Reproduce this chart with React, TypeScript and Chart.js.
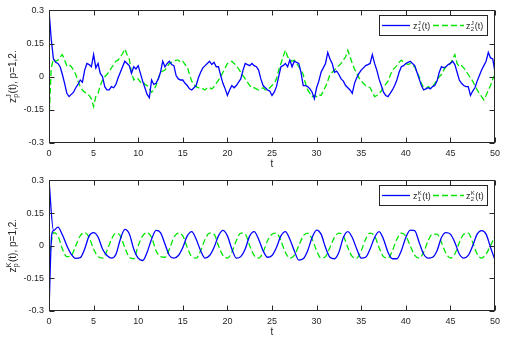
import React, { useEffect, useRef } from 'react';
import { Chart, registerables } from 'chart.js';

Chart.register(...registerables);

// ---------- data ----------
const xTicks = [0, 5, 10, 15, 20, 25, 30, 35, 40, 45, 50];
const yTicks = [-0.3, -0.15, 0, 0.15, 0.3];
const yTickLabels = ['-0.3', '-0.15', '0', '0.15', '0.3'];

// top panel (J), sampled every 0.25 time units
const STEP_J = 0.25;
const zJ1 = [
  0.30, 0.17, 0.08, 0.065, 0.06, 0.045, 0.01, -0.03, -0.075, -0.09, -0.08, -0.07, -0.05, -0.035, -0.015, -0.025, 0.03, 0.06, 0.055, 0.045,
  0.1, 0.04, 0.06, 0.015, 0.0, -0.045, -0.06, -0.06, -0.045, -0.05, -0.035, -0.005, 0.02, 0.045, 0.07, 0.06, 0.05, 0.015, 0.045, 0.035,
  0.05, 0.015, -0.02, -0.05, -0.08, -0.095, -0.015, -0.035, -0.03, -0.01, 0.02, 0.07, 0.045, 0.06, 0.07, 0.055, 0.05, 0.005, -0.01, -0.015,
  -0.015, -0.03, -0.04, -0.055, -0.06, -0.05, -0.04, -0.005, 0.02, 0.04, 0.05, 0.06, 0.07, 0.055, 0.065, 0.045, 0.045, 0.005, -0.03, -0.055,
  -0.085, -0.06, -0.04, -0.05, -0.04, -0.025, -0.01, 0.03, 0.06, 0.055, 0.05, 0.06, 0.05, 0.045, 0.03, -0.01, -0.04, -0.05, -0.06, -0.065,
  -0.085, -0.07, -0.045, 0.0, 0.045, 0.05, 0.06, 0.045, 0.075, 0.045, 0.07, 0.065, 0.06, 0.02, -0.04, -0.04, -0.045, -0.055, -0.07, -0.1,
  -0.05, -0.02, 0.02, 0.04, 0.06, 0.11, 0.08, 0.06, 0.02, 0.025, 0.01, -0.01, -0.02, -0.04, -0.05, -0.06, -0.075, -0.03, -0.005, 0.015,
  0.03, 0.04, 0.05, 0.055, 0.06, 0.1, 0.06, 0.03, -0.01, -0.04, -0.07, -0.085, -0.09, -0.075, -0.06, -0.04, -0.015, 0.02, 0.045, 0.05,
  0.06, 0.065, 0.07, 0.06, 0.05, 0.02, -0.01, -0.04, -0.06, -0.055, -0.05, -0.055, -0.045, -0.04, -0.02, 0.02, 0.045, 0.04, 0.045, 0.055,
  0.06, 0.07, 0.055, 0.02, -0.015, -0.03, -0.04, -0.045, -0.045, -0.085, -0.065, -0.05, -0.02, 0.005, 0.03, 0.05, 0.07, 0.11, 0.085, 0.08,
  0.02,
];
const zJ2 = [
  -0.2, 0.04, 0.08, 0.07, 0.075, 0.09, 0.1, 0.075, 0.05, 0.055, 0.045, 0.03, 0.01, -0.02, -0.045, -0.06, -0.07, -0.075, -0.085, -0.1,
  -0.135, -0.09, -0.075, -0.04, -0.015, 0.0, 0.01, 0.025, 0.04, 0.055, 0.07, 0.075, 0.09, 0.105, 0.125, 0.1, 0.08, 0.02, -0.015, -0.005,
  -0.01, -0.025, -0.02, -0.035, -0.04, -0.055, -0.07, -0.06, -0.04, -0.01, 0.02, 0.025, 0.03, 0.045, 0.06, 0.065, 0.07, 0.075, 0.075, 0.065,
  0.07, 0.055, 0.045, 0.01, -0.02, -0.035, -0.045, -0.05, -0.05, -0.055, -0.06, -0.05, -0.05, -0.055, -0.045, -0.03, -0.015, 0.0, 0.02, 0.04,
  0.06, 0.065, 0.07, 0.06, 0.05, 0.035, 0.02, 0.005, -0.01, -0.025, -0.04, -0.05, -0.05, -0.055, -0.06, -0.055, -0.05, -0.06, -0.06, -0.05,
  -0.04, -0.03, -0.01, 0.03, 0.06, 0.09, 0.12, 0.09, 0.08, 0.07, 0.075, 0.06, 0.045, 0.03, 0.01, -0.03, -0.06, -0.075, -0.09, -0.085,
  -0.09, -0.08, -0.085, -0.065, -0.045, -0.02, 0.01, 0.02, 0.03, 0.04, 0.05, 0.06, 0.075, 0.09, 0.12, 0.09, 0.06, 0.035, 0.015, -0.005,
  -0.02, -0.03, -0.04, -0.045, -0.05, -0.07, -0.09, -0.085, -0.075, -0.065, -0.045, -0.035, -0.02, 0.005, 0.03, 0.04, 0.05, 0.065, 0.075, 0.065,
  0.06, 0.055, 0.06, 0.05, 0.045, 0.02, 0.0, -0.03, -0.05, -0.055, -0.045, -0.05, -0.045, -0.03, -0.015, 0.0, 0.01, 0.03, 0.045, 0.05,
  0.06, 0.08, 0.1, 0.06, 0.045, 0.05, 0.04, 0.025, 0.01, -0.005, -0.02, -0.04, -0.06, -0.075, -0.09, -0.105, -0.085, -0.06, -0.04, -0.01,
  0.01,
];

// bottom panel (K), sampled every 0.5 time units
const STEP_K = 0.5;
const zK1 = [
  0.3, 0.07, 0.085, 0.05, 0.0, -0.04, -0.058, -0.055, -0.015, 0.045,
  0.06, 0.04, -0.015, -0.045, -0.057, -0.04, 0.03, 0.075, 0.055, -0.015,
  -0.057, -0.068, -0.03, 0.03, 0.07, 0.06, 0.008, -0.045, -0.057, -0.045,
  -0.008, 0.045, 0.065, 0.03, -0.023, -0.057, -0.045, -0.008, 0.045, 0.07,
  0.045, -0.015, -0.057, -0.05, -0.015, 0.045, 0.065, 0.03, -0.023, -0.053,
  -0.045, -0.008, 0.045, 0.065, 0.03, -0.023, -0.066, -0.06, -0.023, 0.038,
  0.072, 0.053, -0.008, -0.053, -0.06, -0.03, 0.038, 0.065, 0.038, -0.015,
  -0.057, -0.053, -0.015, 0.038, 0.065, 0.03, -0.03, -0.06, -0.06, -0.023,
  0.038, 0.072, 0.069, 0.015, -0.038, -0.057, -0.053, -0.023, 0.038, 0.06,
  0.053, 0.015, -0.038, -0.057, -0.045, 0.0, 0.053, 0.069, 0.053, -0.008,
  -0.066,
];
const zK2 = [
  -0.07, 0.06, 0.045, -0.015, -0.05, -0.045, 0.0, 0.045, 0.06, 0.038,
  -0.015, -0.05, -0.057, -0.023, 0.03, 0.058, 0.045, -0.008, -0.053, -0.06,
  0.0, 0.045, 0.06, 0.038, -0.023, -0.05, -0.053, -0.015, 0.038, 0.058,
  0.045, -0.008, -0.05, -0.057, -0.023, 0.03, 0.058, 0.053, 0.0, -0.045,
  -0.057, -0.03, 0.023, 0.058, 0.053, 0.0, -0.045, -0.057, -0.03, 0.023,
  0.053, 0.058, 0.023, -0.03, -0.057, -0.045, 0.0, 0.045, 0.058, 0.03,
  -0.023, -0.057, -0.05, -0.008, 0.038, 0.058, 0.045, -0.008, -0.05, -0.057,
  -0.023, 0.03, 0.058, 0.045, -0.008, -0.05, -0.057, -0.023, 0.03, 0.058,
  0.045, 0.0, -0.045, -0.057, -0.03, 0.023, 0.053, 0.053, 0.015, -0.035,
  -0.057, -0.038, 0.015, 0.053, 0.058, 0.015, -0.038, -0.057, -0.038, 0.0,
  0.045,
];
// short blue transient rising from the lower edge at t = 0 (bottom panel)
const tKStart = [0, 0.3, 0.5];
const zKStart = [-0.3, 0.05, 0.07];

// ---------- styling ----------
const FONT = "'Liberation Sans', Arial, sans-serif";
const AXIS_COLOR = '#262626';
const BLUE = '#0000ff';
const GREEN = '#00e600';
const W = 511;

const stepPoints = (step: number, ys: number[]) => ys.map((y, i) => ({ x: i * step, y }));
const pairPoints = (xs: number[], ys: number[]) => xs.map((x, i) => ({ x, y: ys[i] }));

function drawZ(ctx: CanvasRenderingContext2D, x: number, y: number, sub: string, sup: string, rest: string, size: number) {
  ctx.font = `${size}px ${FONT}`;
  ctx.fillText('z', x, y);
  const w = ctx.measureText('z').width;
  const small = Math.round(size * 0.72);
  ctx.font = `${small}px ${FONT}`;
  ctx.fillText(sub, x + w + 0.3, y + size * 0.28);
  ctx.fillText(sup, x + w + 0.3, y - size * 0.42);
  const sw = Math.max(ctx.measureText(sub).width, ctx.measureText(sup).width);
  ctx.font = `${size}px ${FONT}`;
  ctx.fillText(rest, x + w + sw + 0.8, y);
}

function widthZ(ctx: CanvasRenderingContext2D, sub: string, sup: string, rest: string, size: number) {
  ctx.font = `${size}px ${FONT}`;
  const w = ctx.measureText('z').width + ctx.measureText(rest).width;
  ctx.font = `${Math.round(size * 0.72)}px ${FONT}`;
  const sw = Math.max(ctx.measureText(sub).width, ctx.measureText(sup).width);
  return w + sw + 0.8;
}

const decoPlugin = {
  id: 'deco',
  afterDraw(chart: any, _args: any, opts: any) {
    const ctx: CanvasRenderingContext2D = chart.ctx;
    const { left, right, top, bottom } = chart.chartArea;
    const xs = chart.scales.x;
    const ys = chart.scales.y;
    const sup: string = opts.sup;
    ctx.save();
    // box and inward ticks
    ctx.strokeStyle = AXIS_COLOR;
    ctx.lineWidth = 1;
    ctx.setLineDash([]);
    const L = Math.round(left) + 0.5;
    const R = Math.round(right) - 0.5;
    const T = Math.round(top) + 0.5;
    const B = Math.round(bottom) - 0.5;
    ctx.strokeRect(L, T, R - L, B - T);
    ctx.beginPath();
    for (const v of xTicks) {
      const px = Math.round(xs.getPixelForValue(v)) + 0.5;
      ctx.moveTo(px, B); ctx.lineTo(px, B - 5);
      ctx.moveTo(px, T); ctx.lineTo(px, T + 5);
    }
    for (const v of yTicks) {
      const py = Math.round(ys.getPixelForValue(v)) + 0.5;
      ctx.moveTo(L, py); ctx.lineTo(L + 5, py);
      ctx.moveTo(R, py); ctx.lineTo(R - 5, py);
    }
    ctx.stroke();

    // x title
    ctx.fillStyle = AXIS_COLOR;
    ctx.font = `10px ${FONT}`;
    ctx.textAlign = 'center';
    ctx.textBaseline = 'middle';
    ctx.fillText('t', (left + right) / 2, bottom + 21);

    // y title (rotated)
    ctx.textAlign = 'left';
    ctx.textBaseline = 'alphabetic';
    ctx.save();
    ctx.translate(12, (top + bottom) / 2);
    ctx.rotate(-Math.PI / 2);
    const tw = widthZ(ctx, 'p', sup, '(t), p=1,2.', 10);
    drawZ(ctx, -tw / 2, 3.5, 'p', sup, '(t), p=1,2.', 10);
    ctx.restore();

    // legend
    const bw = 108;
    const bh = 20;
    const bx = Math.round(right) - 8 - bw;
    const by = Math.round(top) + 5;
    ctx.fillStyle = '#ffffff';
    ctx.fillRect(bx, by, bw, bh);
    ctx.strokeStyle = AXIS_COLOR;
    ctx.lineWidth = 1;
    ctx.strokeRect(bx + 0.5, by + 0.5, bw, bh);
    const my = by + bh / 2 + 0.5;
    ctx.lineWidth = 1.3;
    ctx.strokeStyle = BLUE;
    ctx.beginPath(); ctx.moveTo(bx + 3, my); ctx.lineTo(bx + 31, my); ctx.stroke();
    ctx.strokeStyle = GREEN;
    ctx.setLineDash([6, 3]);
    ctx.beginPath(); ctx.moveTo(bx + 54, my); ctx.lineTo(bx + 85, my); ctx.stroke();
    ctx.setLineDash([]);
    ctx.fillStyle = AXIS_COLOR;
    drawZ(ctx, bx + 34, my + 3, '1', sup, '(t)', 9);
    drawZ(ctx, bx + 87, my + 3, '2', sup, '(t)', 9);
    ctx.restore();
  },
};

type Series = { data: { x: number; y: number }[]; color: string; dash: number[] };

function Panel(props: { height: number; plotTop: number; plotBottom: number; sup: string; series: Series[]; smooth: boolean }) {
  const ref = useRef<HTMLCanvasElement | null>(null);
  useEffect(() => {
    if (!ref.current) return;
    const { height, plotTop, plotBottom, sup, series, smooth } = props;
    const chart = new Chart(ref.current, {
      type: 'line',
      data: {
        datasets: series.map((s) => ({
          data: s.data,
          borderColor: s.color,
          borderWidth: 1.3,
          borderDash: s.dash,
          pointRadius: 0,
          fill: false,
          tension: smooth ? 0.35 : 0,
          cubicInterpolationMode: smooth ? ('monotone' as const) : ('default' as const),
        })),
      },
      options: {
        responsive: false,
        animation: false,
        events: [],
        layout: { padding: { left: 0, right: W - 495, top: plotTop, bottom: 0 } },
        scales: {
          x: {
            type: 'linear',
            min: 0,
            max: 50,
            grid: { display: false, drawTicks: false },
            border: { display: false },
            afterBuildTicks: (s: any) => { s.ticks = xTicks.map((v) => ({ value: v })); },
            afterFit: (s: any) => { s.height = height - plotBottom; },
            ticks: {
              autoSkip: false,
              maxRotation: 0,
              padding: 5,
              color: AXIS_COLOR,
              font: { family: FONT, size: 9 },
              callback: (v: any) => String(v),
            },
          },
          y: {
            type: 'linear',
            min: -0.3,
            max: 0.3,
            grid: { display: false, drawTicks: false },
            border: { display: false },
            afterBuildTicks: (s: any) => { s.ticks = yTicks.map((v) => ({ value: v })); },
            afterFit: (s: any) => { s.width = 49; },
            ticks: {
              autoSkip: false,
              padding: 5,
              color: AXIS_COLOR,
              font: { family: FONT, size: 9 },
              callback: (v: any) => {
                const i = yTicks.findIndex((t) => Math.abs(t - Number(v)) < 1e-9);
                return i >= 0 ? yTickLabels[i] : '';
              },
            },
          },
        },
        plugins: {
          legend: { display: false },
          tooltip: { enabled: false },
          deco: { sup },
        } as any,
      },
      plugins: [decoPlugin as any],
    });
    return () => chart.destroy();
  }, []);
  return <canvas ref={ref} width={W} height={props.height} style={{ display: 'block', width: W, height: props.height }} />;
}

export default function App() {
  const topSeries: Series[] = [
    { data: stepPoints(STEP_J, zJ1), color: BLUE, dash: [] },
    { data: stepPoints(STEP_J, zJ2), color: GREEN, dash: [6, 3] },
  ];
  const bottomSeries: Series[] = [
    { data: stepPoints(STEP_K, zK1), color: BLUE, dash: [] },
    { data: pairPoints(tKStart, zKStart), color: BLUE, dash: [] },
    { data: stepPoints(STEP_K, zK2), color: GREEN, dash: [6, 3] },
  ];
  return (
    <div style={{ position: 'absolute', left: 0, top: 0, width: W, height: 344, background: '#fff' }}>
      <Panel height={170} plotTop={10} plotBottom={143} sup="J" series={topSeries} smooth={false} />
      <Panel height={174} plotTop={9} plotBottom={141} sup="K" series={bottomSeries} smooth={true} />
    </div>
  );
}
